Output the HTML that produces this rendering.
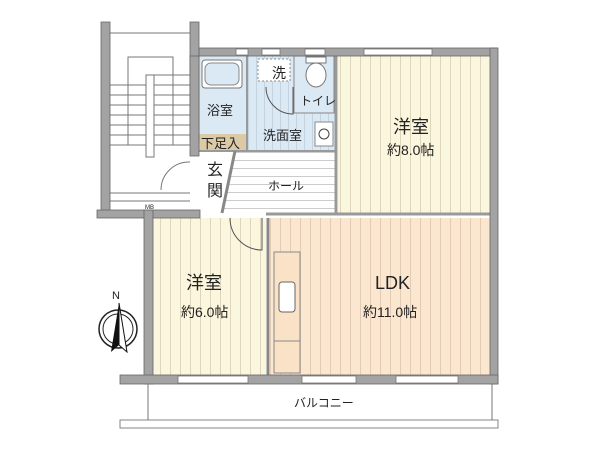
<!DOCTYPE html>
<html><head><meta charset="utf-8"><style>
html,body{margin:0;padding:0;background:#fff;width:600px;height:450px;overflow:hidden}
text{font-family:"Liberation Sans","Noto Sans CJK JP",sans-serif;fill:#222}
</style></head><body>
<svg width="600" height="450" viewBox="0 0 600 450" xmlns="http://www.w3.org/2000/svg">
<defs>
<pattern id="vc" width="10" height="10" patternUnits="userSpaceOnUse"><rect width="10" height="10" fill="#fbf6de"/><line x1="0.5" y1="0" x2="0.5" y2="10" stroke="#ddd6bd" stroke-width="1"/></pattern>
<pattern id="vp" width="10" height="10" patternUnits="userSpaceOnUse"><rect width="10" height="10" fill="#fbe6d0"/><line x1="0.5" y1="0" x2="0.5" y2="10" stroke="#e2cbb2" stroke-width="1"/></pattern>
<pattern id="vb" width="8" height="8" patternUnits="userSpaceOnUse"><rect width="8" height="8" fill="#dbe9f5"/><line x1="0.5" y1="0" x2="0.5" y2="8" stroke="#c4d3e0" stroke-width="1"/></pattern>
<pattern id="hh" width="10" height="8" patternUnits="userSpaceOnUse"><rect width="10" height="8" fill="#fff"/><line x1="0" y1="0.5" x2="10" y2="0.5" stroke="#ccc" stroke-width="1"/></pattern>
</defs>
<rect x="110" y="22" width="80" height="188" fill="#fff"/>
<g stroke="#777" stroke-width="1" fill="none">
<line x1="110" y1="33" x2="190" y2="33"/>
<rect x="128" y="57" width="45" height="88"/>
<rect x="146" y="75" width="8" height="82" fill="#fff"/>
<line x1="110" y1="85" x2="146" y2="85"/><line x1="110" y1="95" x2="146" y2="95"/><line x1="110" y1="105" x2="146" y2="105"/><line x1="110" y1="115" x2="146" y2="115"/><line x1="110" y1="125" x2="146" y2="125"/><line x1="110" y1="135" x2="146" y2="135"/><line x1="110" y1="145" x2="146" y2="145"/>
<line x1="154" y1="75" x2="190" y2="75"/><line x1="154" y1="85" x2="190" y2="85"/><line x1="154" y1="95" x2="190" y2="95"/><line x1="154" y1="105" x2="190" y2="105"/><line x1="154" y1="115" x2="190" y2="115"/><line x1="154" y1="125" x2="190" y2="125"/><line x1="154" y1="135" x2="190" y2="135"/><line x1="154" y1="145" x2="190" y2="145"/>
<line x1="110" y1="193" x2="190" y2="193"/><line x1="110" y1="201" x2="190" y2="201"/>
<path d="M161 190 A28 28 0 0 1 190 162"/>
</g>
<text x="145" y="209" font-size="6">MB</text>
<rect x="199" y="56" width="48" height="78" fill="#dbe9f5"/>
<rect x="199" y="134" width="48" height="17" fill="#dcc9a5"/>
<rect x="199" y="151" width="36" height="60" fill="#fff"/>
<rect x="248" y="56" width="88" height="96" fill="url(#vb)"/>
<rect x="294" y="56" width="40" height="57" fill="#dbe9f5" stroke="#888" stroke-width="1"/>
<polygon points="235,152 336,152 336,211 222,211" fill="url(#hh)"/>
<rect x="338" y="56" width="152" height="157" fill="url(#vc)"/>
<rect x="153" y="218" width="113" height="157" fill="url(#vc)"/>
<rect x="270" y="218" width="220" height="157" fill="url(#vp)"/>
<rect x="202" y="60" width="40" height="28" rx="3" fill="#fff" stroke="#777"/>
<rect x="205" y="63" width="34" height="22" rx="6" fill="#dbe9f5" stroke="#888"/>
<rect x="258" y="59" width="32" height="22" fill="#fff" stroke="#888" stroke-dasharray="2,2"/>
<ellipse cx="316" cy="75" rx="10" ry="12" fill="#fff" stroke="#777"/>
<rect x="306" y="57" width="20" height="6" fill="#fff" stroke="#777"/>
<rect x="315" y="122" width="18" height="24" fill="#fff" stroke="#888"/>
<circle cx="324" cy="134" r="5" fill="#fff" stroke="#444"/>
<path d="M266 87 A27 27 0 0 0 293 114 L293 87" fill="none" stroke="#555"/>
<path d="M230 218 A32 32 0 0 0 262 250 L262 218" fill="none" stroke="#555"/>
<rect x="274" y="252" width="26" height="121" fill="#fae2c7" stroke="#888"/>
<line x1="274" y1="341" x2="300" y2="341" stroke="#888"/>
<rect x="279" y="282" width="16" height="30" rx="3" fill="#fff" stroke="#666"/>
<line x1="268" y1="218" x2="268" y2="375" stroke="#888" stroke-width="3"/>
<line x1="336" y1="56" x2="336" y2="213" stroke="#999" stroke-width="3"/>
<line x1="247" y1="56" x2="247" y2="152" stroke="#999" stroke-width="2"/>
<line x1="199" y1="151" x2="336" y2="151" stroke="#999" stroke-width="2"/>
<line x1="235" y1="151" x2="222" y2="213" stroke="#888" stroke-width="3"/>
<line x1="266" y1="214" x2="490" y2="214" stroke="#999" stroke-width="3"/>
<g fill="#a3a3a3" stroke="#666" stroke-width="0.8">
<rect x="101" y="22" width="9" height="190"/>
<rect x="190" y="22" width="9" height="120"/>
<rect x="97" y="210" width="103" height="8"/>
<rect x="144" y="210" width="9" height="174"/>
<rect x="199" y="48" width="298" height="8"/>
<rect x="490" y="48" width="8" height="336"/>
<rect x="190" y="56" width="9" height="100"/>
<rect x="120" y="375" width="378" height="9"/>
<rect x="120" y="420" width="378" height="8" fill="#fff"/>
</g>
<g fill="#fff" stroke="#777" stroke-width="0.8">
<rect x="364" y="49" width="68" height="6"/>
<rect x="178" y="376" width="70" height="7"/>
<rect x="302" y="376" width="54" height="7"/>
<rect x="396" y="376" width="62" height="7"/>
<rect x="236" y="49" width="12" height="6"/><rect x="262" y="49" width="18" height="6"/><rect x="305" y="49" width="20" height="6"/>
</g>
<line x1="148" y1="384" x2="148" y2="420" stroke="#777"/>
<line x1="492" y1="384" x2="492" y2="420" stroke="#777"/>
<text x="272" y="78" font-size="14">洗</text>
<text x="207" y="115" font-size="13">浴室</text>
<text x="300" y="105" font-size="12">トイレ</text>
<text x="263" y="140" font-size="13">洗面室</text>
<text x="201" y="148" font-size="13">下足入</text>
<text x="207" y="175" font-size="16">玄</text>
<text x="207" y="196" font-size="16">関</text>
<text x="268" y="190" font-size="12">ホール</text>
<text x="393" y="133" font-size="18">洋室</text>
<text x="387" y="155" font-size="14">約8.0帖</text>
<text x="186" y="289" font-size="18">洋室</text>
<text x="181" y="317" font-size="14">約6.0帖</text>
<text x="375" y="289" font-size="18">LDK</text>
<text x="363" y="317" font-size="14">約11.0帖</text>
<text x="294" y="407" font-size="12">バルコニー</text>
<text x="112" y="299" font-size="11" font-family="Liberation Serif">N</text>
<circle cx="118" cy="329" r="19" fill="none" stroke="#222" stroke-width="1.5"/>
<circle cx="118" cy="329" r="15" fill="none" stroke="#222" stroke-width="1"/>
<polygon points="119,303 111,352 119,345" fill="#111"/>
<polygon points="119,303 127,352 119,345" fill="#fff" stroke="#111"/>
</svg>
</body></html>
